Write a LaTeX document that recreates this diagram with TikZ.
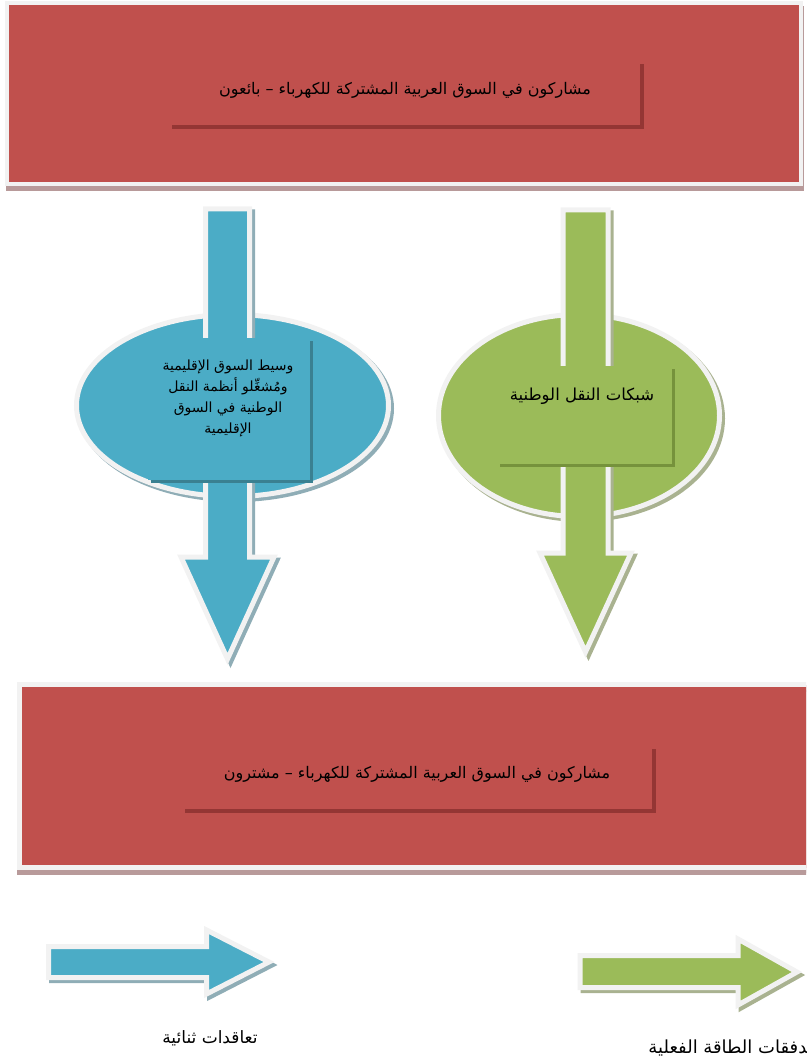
\documentclass[tikz,border=0pt]{standalone}
\usepackage{fontspec}
\newfontfamily\arabicfont[Script=Arabic]{DejaVu Sans}
\TeXXeTstate=1
\usetikzlibrary{shapes.geometric,shadows,positioning}
\definecolor{boxred}{HTML}{C0504D}
\definecolor{redshade}{HTML}{943634}
\definecolor{redfade}{HTML}{B89A9A}
\definecolor{ellblue}{HTML}{4BACC6}
\definecolor{blueshade}{HTML}{3A8091}
\definecolor{bluefade}{HTML}{8FADB6}
\definecolor{ellgreen}{HTML}{9BBB59}
\definecolor{greenshade}{HTML}{76923C}
\definecolor{greenfade}{HTML}{A9B290}
\definecolor{rimgray}{HTML}{F2F2F2}
\begin{document}
\begin{tikzpicture}[x=1pt,y=-1pt,
	rim/.style={draw=rimgray,line width=5pt,line join=miter},
	arlabel/.style={font=\arabicfont\fontsize{#1}{21}\selectfont,inner sep=0pt,align=center},
	arlabel/.default=16,
	frame/.style={inner sep=0pt,draw=none}]
	
	\useasboundingbox (0,0) rectangle (806,1059);
	\clip (0,0) rectangle (806,1059);
	
	%sellers
	\node[rim,line width=4pt,fill=boxred,minimum width=794pt,minimum height=181pt,
		drop shadow={shadow xshift=1pt,shadow yshift=-5pt,opacity=1,fill=redfade,draw=redfade,line width=4pt}] (sellbg) at (404,93.5) {};
	\node[frame,fill=boxred,minimum width=472pt,minimum height=65pt,
		drop shadow={shadow xshift=4pt,shadow yshift=-4pt,opacity=1,fill=redshade}] (sellframe) at (404,92.5) {};
	\node[arlabel] (selltext) at (405,90) {\beginR مشاركون في السوق العربية المشتركة للكهرباء – بائعون\endR};
	
	%regional market
	\node[ellipse,rim,fill=ellblue,minimum width=312pt,minimum height=182pt,
		drop shadow={shadow xshift=3pt,shadow yshift=-3pt,opacity=1,fill=bluefade,draw=bluefade,line width=5pt}] (blueell) at (232.5,405.5) {};
	\draw[rim,fill=ellblue,drop shadow={shadow xshift=3pt,shadow yshift=-3pt,opacity=1,fill=bluefade,draw=bluefade,line width=5pt}]
		(205.5,209) -- (249.5,209) -- (249.5,557) -- (274,557) -- (227.5,659) -- (181,557) -- (205.5,557) -- cycle;
	\node[frame,fill=ellblue,minimum width=162pt,minimum height=142pt,
		drop shadow={shadow xshift=3pt,shadow yshift=-3pt,opacity=1,fill=blueshade}] (blueframe) at (229,409) {};
	\node[arlabel=14,anchor=north] (bluetext) at (228,360) {{\beginR وسيط السوق الإقليمية\endR}\\{\beginR ومُشغِّلو أنظمة النقل\endR}\\{\beginR الوطنية في السوق\endR}\\{\beginR الإقليمية\endR}};
	
	%national networks
	\node[ellipse,rim,fill=ellgreen,minimum width=281pt,minimum height=202pt,
		drop shadow={shadow xshift=3pt,shadow yshift=-3pt,opacity=1,fill=greenfade,draw=greenfade,line width=5pt}] (greenell) at (579,415.5) {};
	\draw[rim,fill=ellgreen,drop shadow={shadow xshift=3pt,shadow yshift=-3pt,opacity=1,fill=greenfade,draw=greenfade,line width=5pt}]
		(563,210) -- (608,210) -- (608,553) -- (631,553) -- (585.5,652) -- (540,553) -- (563,553) -- cycle;
	\node[frame,fill=ellgreen,minimum width=175pt,minimum height=98pt,
		drop shadow={shadow xshift=3pt,shadow yshift=-3pt,opacity=1,fill=greenshade}] (greenframe) at (584.5,415) {};
	\node[arlabel=16.5] (greentext) at (582,396) {\beginR شبكات النقل الوطنية\endR};
	
	%buyers
	\node[rim,fill=boxred,minimum width=792.5pt,minimum height=183pt,
		drop shadow={shadow xshift=0pt,shadow yshift=-5pt,opacity=1,fill=redfade,draw=redfade,line width=5pt}] (buybg) at (415.75,776) {};
	\node[frame,fill=boxred,minimum width=471pt,minimum height=64pt,
		drop shadow={shadow xshift=4pt,shadow yshift=-4pt,opacity=1,fill=redshade}] (buyframe) at (416.5,777) {};
	\node[arlabel] (buytext) at (417,774) {\beginR مشاركون في السوق العربية المشتركة للكهرباء – مشترون\endR};
	
	%legend
	\draw[rim,fill=ellblue,drop shadow={shadow xshift=3pt,shadow yshift=-3pt,opacity=1,fill=bluefade,draw=bluefade,line width=5pt}]
		(48.5,946.5) -- (206.5,946.5) -- (206.5,930) -- (269,962) -- (206.5,994) -- (206.5,977.5) -- (48.5,977.5) -- cycle;
	\node[arlabel=17] (contracts) at (210,1038) {\beginR تعاقدات ثنائية\endR};
	\draw[rim,fill=ellgreen,drop shadow={shadow xshift=3pt,shadow yshift=-3pt,opacity=1,fill=greenfade,draw=greenfade,line width=5pt}]
		(580,955.5) -- (738,955.5) -- (738,939) -- (797,972) -- (738,1005) -- (738,987.5) -- (580,987.5) -- cycle;
	\node[arlabel=18,anchor=east] (flows) at (813,1048) {\beginR تدفقات الطاقة الفعلية\endR};
\end{tikzpicture}
\end{document}
